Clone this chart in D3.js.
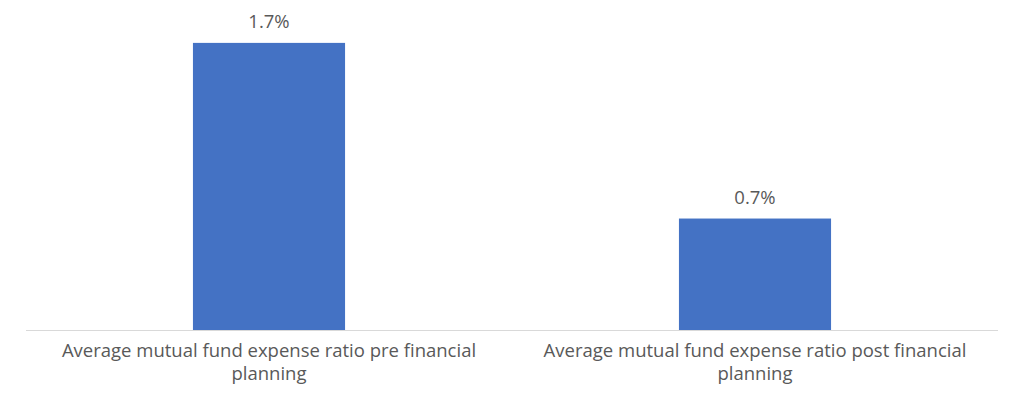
<!DOCTYPE html>
<html>
<head>
<meta charset="utf-8">
<script src="https://cdn.jsdelivr.net/npm/d3@7"></script>
<style>
  body { margin: 0; background: #fff; }
  text { font-family: "Open Sans", sans-serif; fill: #595959; }
</style>
</head>
<body>
<div id="chart"></div>
<script>
var categories = [
    'Average mutual fund expense ratio pre financial planning',
    'Average mutual fund expense ratio post financial planning'
];
var values = [1.7, 0.66];
var valueLabels = ['1.7%', '0.7%'];

var width = 1024, height = 411;
var plotLeft = 26, plotRight = 998, baseY = 330, topY = 26;

var svg = d3.select('#chart').append('svg')
    .attr('width', width).attr('height', height);

var x = d3.scaleBand().domain(categories).range([plotLeft, plotRight]).padding(0);
var y = d3.scaleLinear().domain([0, 1.8]).range([baseY, topY]);

var barW = x.bandwidth() * 0.313;

svg.selectAll('rect.bar')
    .data(values)
    .enter()
    .append('rect')
    .attr('class', 'bar')
    .attr('x', function (d, i) { return x(categories[i]) + x.bandwidth() / 2 - barW / 2; })
    .attr('y', function (d) { return y(d); })
    .attr('width', barW)
    .attr('height', function (d) { return y(0) - y(d); })
    .attr('fill', '#4472C4');

// baseline
svg.append('line')
    .attr('x1', plotLeft).attr('x2', plotRight)
    .attr('y1', baseY + 0.5).attr('y2', baseY + 0.5)
    .attr('stroke', '#d9d9d9').attr('stroke-width', 1);

// data labels
svg.selectAll('text.val')
    .data(values)
    .enter()
    .append('text')
    .attr('class', 'val')
    .attr('x', function (d, i) { return x(categories[i]) + x.bandwidth() / 2; })
    .attr('y', function (d) { return y(d) - 15; })
    .attr('text-anchor', 'middle')
    .style('font-size', '18.5px')
    .text(function (d, i) { return valueLabels[i]; });

// category labels, wrapped to fit
var axis = svg.append('g').attr('transform', 'translate(0,' + baseY + ')')
    .call(d3.axisBottom(x).tickSize(0).tickPadding(0));
axis.select('.domain').remove();
axis.selectAll('.tick text').remove();

axis.selectAll('.tick').each(function (d) {
    var t = d3.select(this).append('text')
        .attr('text-anchor', 'middle')
        .style('font-size', '18.5px')
        .attr('y', 27);
    var words = d.split(' '), line = [];
    var tspan = t.append('tspan').attr('x', 0).attr('dy', 0);
    words.forEach(function (w) {
        line.push(w);
        tspan.text(line.join(' '));
        if (tspan.node().getComputedTextLength() > 450 && line.length > 1) {
            line.pop();
            tspan.text(line.join(' '));
            line = [w];
            tspan = t.append('tspan').attr('x', 0).attr('dy', '1.25em').text(w);
        }
    });
});
</script>
</body>
</html>
